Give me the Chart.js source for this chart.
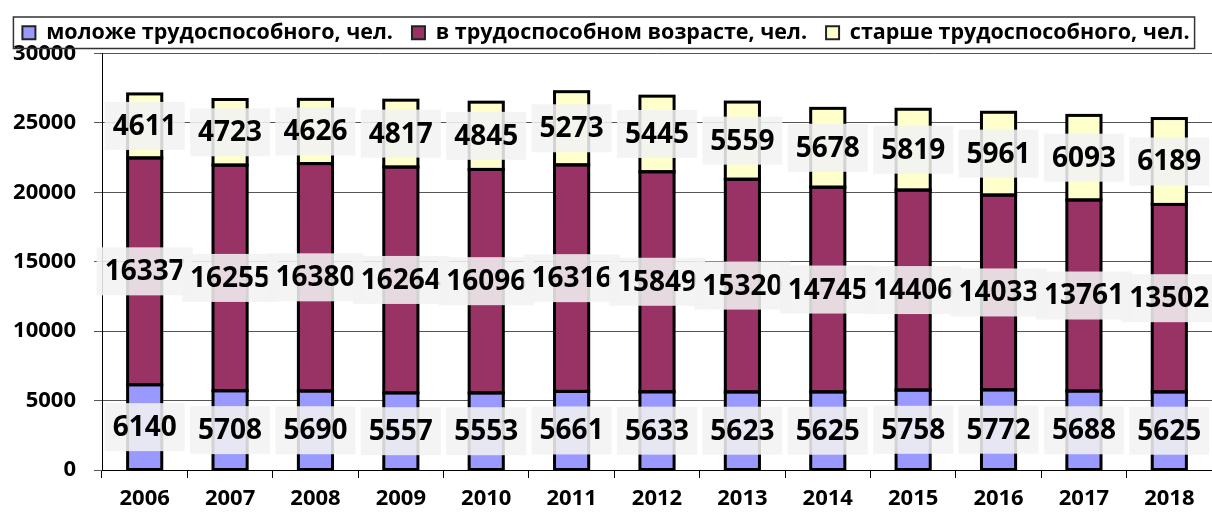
<!DOCTYPE html>
<html>
<head>
<meta charset="utf-8">
<script src="https://cdn.jsdelivr.net/npm/chart.js@4/dist/chart.umd.min.js"></script>
<style>
  body { margin: 0; background: #fff; }
  #wrap { width: 1212px; height: 514px; }
</style>
</head>
<body>
<div id="wrap"><canvas id="popChart"></canvas></div>
<script>
let years = ['2006', '2007', '2008', '2009', '2010', '2011', '2012', '2013', '2014', '2015', '2016', '2017', '2018'];
let young = [6140, 5708, 5690, 5557, 5553, 5661, 5633, 5623, 5625, 5758, 5772, 5688, 5625];
let working = [16337, 16255, 16380, 16264, 16096, 16316, 15849, 15320, 14745, 14406, 14033, 13761, 13502];
let old = [4611, 4723, 4626, 4817, 4845, 5273, 5445, 5559, 5678, 5819, 5961, 6093, 6189];
let yTicks = [0, 5000, 10000, 15000, 20000, 25000, 30000];

const FONT = '"Open Sans", "DejaVu Sans", sans-serif';

// black outlines round every segment, then gray value boxes in their middle
const valueBoxes = {
    id: 'valueBoxes',
    afterDatasetsDraw(chart) {
        let ctx = chart.ctx;
        ctx.save();
        ctx.strokeStyle = '#000';
        ctx.lineWidth = 3;
        chart.data.datasets.forEach((ds, i) => {
            chart.getDatasetMeta(i).data.forEach(bar => {
                let top = Math.min(bar.y, bar.base);
                ctx.strokeRect(bar.x - bar.width / 2, top, bar.width, Math.abs(bar.base - bar.y));
            });
        });

        ctx.font = 'bold 28px ' + FONT;
        ctx.textAlign = 'center';
        ctx.textBaseline = 'middle';
        chart.data.datasets.forEach((ds, i) => {
            chart.getDatasetMeta(i).data.forEach((bar, j) => {
                let txt = String(ds.data[j]);
                let w = ctx.measureText(txt).width + 16;
                let h = 48;
                let cy = (bar.y + bar.base) / 2;
                ctx.fillStyle = 'rgba(242,242,242,0.87)';
                ctx.fillRect(bar.x - w / 2, cy - h / 2, w, h);
                ctx.fillStyle = '#000';
                ctx.fillText(txt, bar.x, cy + 1);
            });
        });
        ctx.restore();
    }
};

// frame around the legend
const legendFrame = {
    id: 'legendFrame',
    afterDraw(chart) {
        let boxes = chart.legend.legendHitBoxes;
        if (!boxes || !boxes.length) return;
        let left = boxes[0].left - 9;
        let last = boxes[boxes.length - 1];
        let right = last.left + last.width + 5;
        let top = boxes[0].top - 5;
        let ctx = chart.ctx;
        ctx.save();
        ctx.strokeStyle = '#333';
        ctx.lineWidth = 1.5;
        ctx.strokeRect(left, top, right - left, boxes[0].height + 10);
        ctx.restore();
    }
};

let ctx = document.getElementById('popChart').getContext('2d');
let popChart = new Chart(ctx, {
    type: 'bar',
    data: {
        labels: years,
        datasets: [{
            label: 'моложе трудоспособного, чел.',
            data: young,
            backgroundColor: '#9999FF'
        }, {
            label: 'в трудоспособном возрасте, чел.',
            data: working,
            backgroundColor: '#993366'
        }, {
            label: 'старше трудоспособного, чел.',
            data: old,
            backgroundColor: '#FFFFCC'
        }]
    },
    options: {
        responsive: true,
        maintainAspectRatio: false,
        animation: false,
        layout: { padding: { top: 3, right: 0, left: 0, bottom: 0 } },
        datasets: {
            bar: {
                borderWidth: 0,
                barPercentage: 0.4,
                categoryPercentage: 1
            }
        },
        plugins: {
            tooltip: { enabled: false },
            legend: {
                position: 'top',
                labels: {
                    color: '#000',
                    font: { family: FONT, size: 21.5, weight: 'bold' },
                    boxWidth: 13,
                    boxHeight: 13,
                    padding: 19,
                    generateLabels(chart) {
                        return chart.data.datasets.map((ds, i) => ({
                            text: ds.label,
                            fillStyle: ds.backgroundColor,
                            strokeStyle: '#222',
                            lineWidth: 2,
                            datasetIndex: i
                        }));
                    }
                }
            }
        },
        scales: {
            x: {
                stacked: true,
                afterFit(scale) { scale.height = 44; },
                border: { color: '#000', width: 1 },
                grid: { drawOnChartArea: false, drawTicks: true, tickLength: 8, color: '#000', offset: true },
                ticks: { color: '#000', padding: 8, font: { family: FONT, size: 22, weight: 'bold' } }
            },
            y: {
                stacked: true,
                min: 0,
                max: 30000,
                afterFit(scale) { scale.width = 102; },
                afterBuildTicks(scale) { scale.ticks = yTicks.map(v => ({ value: v })); },
                border: { color: '#000', width: 1 },
                grid: { color: '#555', lineWidth: 1, tickLength: 8 },
                ticks: {
                    color: '#000',
                    padding: 18,
                    font: { family: FONT, size: 22, weight: 'bold' },
                    callback: v => String(v)
                }
            }
        }
    },
    plugins: [valueBoxes, legendFrame]
});
</script>
</body>
</html>
